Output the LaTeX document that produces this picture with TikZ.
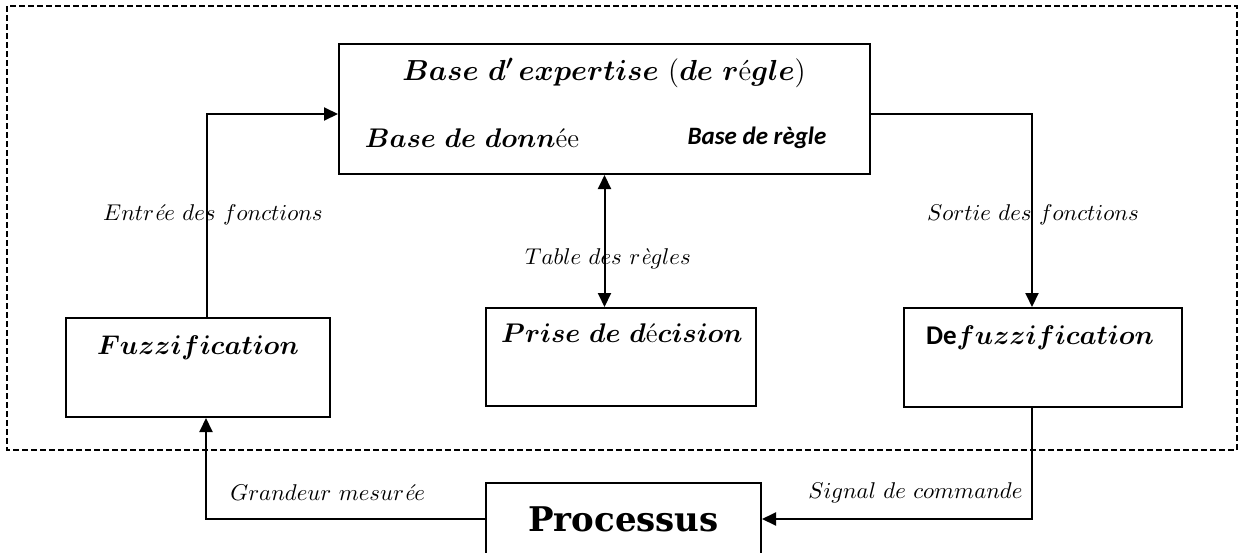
\RequirePackage{fix-cm}
\documentclass[tikz,border=0pt]{standalone}
\usepackage{amsmath,amssymb,bm}
\usepackage{fontspec}
\newfontfamily\calib{Carlito}
\newfontfamily\serifb{DejaVu Serif}
\usepackage{tikz}
\usetikzlibrary{positioning,arrows.meta,calc}
\tikzset{
  blk/.style={rectangle,draw=black,line width=1pt,inner sep=0pt},
  ar/.style={-{Triangle[length=7pt,width=6.5pt]},line width=1pt,draw=black},
  arb/.style={{Triangle[length=7pt,width=6.5pt]}-{Triangle[length=7pt,width=6.5pt]},line width=1pt,draw=black},
  ln/.style={line width=1pt,draw=black},
  ttl/.style={font=\fontsize{13.5}{16}\selectfont,inner sep=0pt},
  lbl/.style={font=\fontsize{11.4}{13}\selectfont,inner sep=0pt},
}
\newcommand{\bi}[1]{\bm{#1}}
\newcommand{\ie}[1]{\text{\itshape #1}}

\begin{document}
\begin{tikzpicture}[x=0.5pt,y=-0.5pt]
  \useasboundingbox (0,0) rectangle (1242,552);
  \draw[line width=0.8pt,dash pattern=on 3pt off 1.5pt] (7,6) rectangle (1237,450);
  % blocs
  \node[blk,minimum width=265.5pt,minimum height=65pt] (expert) at (604.5,109) {};
  \node[blk,minimum width=132pt,minimum height=49.5pt] (fuzz) at (198,367.5) {};
  \node[blk,minimum width=135pt,minimum height=49pt] (prise) at (621,357) {};
  \node[blk,minimum width=139pt,minimum height=49.5pt] (defuzz) at (1043,357.5) {};
  \node[blk,minimum width=137.5pt,minimum height=36pt,font=\fontsize{17}{20}\serifb\bfseries] (proc) at (623.5,519) {Processus};
  % textes des blocs
  \node[ttl,font=\fontsize{14.5}{17}\selectfont] (expT) at (604,73) {$\bi{Base\ d'\,expertise}\ (\bi{de\ r}\text{é}\bi{gle})$};
  \node[ttl] (bdd) at (472,138) {$\bi{Base\ de\ donn}\text{ée}$};
  \node[ttl,font=\fontsize{12.5}{15}\calib\bfseries\itshape] (bdr) at (757,138) {Base de règle};
  \node[ttl] (fuzzT) at (198,348) {$\bi{Fuzzification}$};
  \node[ttl] (priseT) at (622,333) {$\bi{Prise\ de\ d}\text{é}\bi{cision}$};
  \node[ttl] (defuzzT) at (1040,338) {{\calib\bfseries De}$\bi{fuzzification}$};
  % liaisons
  \draw[ar] ([xshift=4.5pt]fuzz.north) |- ([yshift=-2.5pt]expert.west);
  \draw[ar] ([yshift=-2.5pt]expert.east) -| ([xshift=-5.5pt]defuzz.north);
  \draw[arb] (expert.south) -- (expert.south |- prise.north);
  \draw[ar] ([xshift=-5.5pt]defuzz.south) |- (proc.east);
  \draw[ar] (proc.west) -| ([xshift=4pt]fuzz.south);
  % etiquettes
  \node[lbl] (lin) at (213,215) {$Entr\ie{é}e\ des\ fonctions$};
  \node[lbl] (lout) at (1033,215) {$Sortie\ des\ fonctions$};
  \node[lbl] (ltab) at (608,259) {$Table\ des\ r\ie{è}gles$};
  \node[lbl,anchor=west] (lmes) at (230,493) {$Grandeur\ mesur\ie{é}e$};
  \node[lbl,anchor=east] (lcmd) at (1023,493) {$Signal\ de\ commande$};
\end{tikzpicture}
\end{document}
